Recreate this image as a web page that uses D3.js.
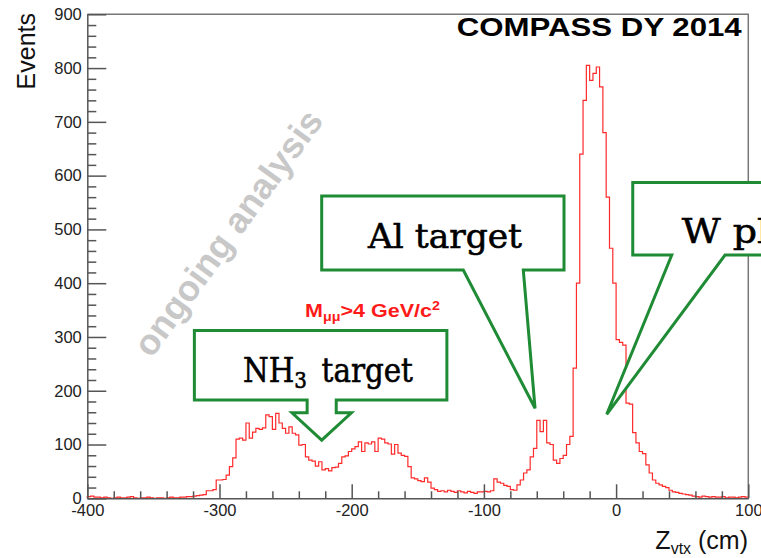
<!DOCTYPE html>
<html lang="en">
<head>
<meta charset="UTF-8">
<title>COMPASS DY 2014 - Z vertex</title>
<script src="https://d3js.org/d3.v7.min.js"></script>
<style>
  body { margin: 0; background: #fff; }
  svg { display: block; font-family: "Liberation Sans", Arial, sans-serif; }
</style>
</head>
<body>
<svg id="chart" width="761" height="558"></svg>
<script>
// histogram: Z_vtx from -400 to 100 cm, 2.5 cm bins
const binLow = -400;
const binWidth = 2.5;
const counts = [
  3,4,2,2,1,2,1,0,1,2,1,1,2,3,1,0,1,1,2,1,0,1,1,0,1,2,1,1,2,2,3,3,
  4,5,6,7,14,14,16,34,34,35,43,59,75,110,112,108,140,112,123,130,128,131,155,152,128,158,140,130,121,133,121,118,
  99,100,77,71,69,60,68,53,55,51,57,58,65,77,79,87,92,96,105,87,103,101,105,87,112,110,103,101,82,100,84,80,
  78,59,38,36,33,31,38,30,19,16,13,14,12,15,13,11,14,12,10,13,11,9,12,12,13,12,14,36,30,28,24,22,
  16,15,25,34,47,53,77,93,145,124,145,103,100,71,65,74,80,100,115,242,400,640,740,805,777,790,802,765,680,560,465,400,
  295,290,285,177,175,122,103,87,83,62,47,34,28,25,22,20,15,12,11,9,8,7,6,4,
  3,2,4,3,2,3,2,2,3,1,2,2,1,2,3,2
];

const xMajor = [-400, -300, -200, -100, 0, 100];
const yMajor = [0, 100, 200, 300, 400, 500, 600, 700, 800, 900];
const xMinor = d3.range(-400, 101, 20).filter(v => !xMajor.includes(v));
const yMinor = d3.range(0, 901, 20).filter(v => !yMajor.includes(v));

// callout outlines in (cm, events)
const nh3Callout = [[-319,312],[-128,312],[-128,183],[-211.7,183],[-211.7,159],[-200.2,159],[-222.7,108],[-245.2,159],[-233.7,159],[-233.7,183],[-319,183]];
const alCallout = [[-222.7,562],[-39.4,562],[-39.4,424.5],[-70.2,424.5],[-61.3,167.4],[-115.6,424.5],[-222.7,424.5]];
const wCallout = [[12.6,587],[140,587],[140,452.4],[82.4,452.4],[-7.1,156.2],[42.1,452.4],[12.6,452.4]];

const W = 761, H = 558;
const svg = d3.select("#chart");
svg.append("rect").attr("width", W).attr("height", H).attr("fill", "#fff");

const x = d3.scaleLinear().domain([-400, 100]).range([87.3, 748.3]);
const y = d3.scaleLinear().domain([0, 900]).range([498.3, 14.3]);

const axisCol = "#555";
const green = "#1f8b35";

// watermark
svg.append("text")
  .attr("transform", "translate(238,240) rotate(-54)")
  .attr("text-anchor", "middle")
  .attr("font-weight", "bold")
  .attr("font-size", 36)
  .attr("fill", "#c8c8c8")
  .text("ongoing analysis");

// frame top/right
svg.append("path")
  .attr("d", `M${x(-400)},${y(900)}H${x(100)}V${y(0)}`)
  .attr("fill", "none").attr("stroke", "#777").attr("stroke-width", 1.5);

// histogram
const pts = [[binLow, 0]].concat(counts.map((c, i) => [binLow + i * binWidth, c]));
pts.push([binLow + counts.length * binWidth, counts[counts.length - 1]]);
const line = d3.line().x(d => x(d[0])).y(d => y(d[1])).curve(d3.curveStepAfter);
svg.append("path")
  .attr("d", line(pts))
  .attr("fill", "none")
  .attr("stroke", "#ff2a2a")
  .attr("stroke-width", 1.2);

// axes
function styleAxis(g) {
  g.selectAll("line").attr("stroke", axisCol).attr("stroke-width", 1.5);
  g.select(".domain").attr("stroke", axisCol).attr("stroke-width", 1.5);
  g.selectAll("text").attr("font-size", 16.5).attr("fill", "#222")
    .attr("font-family", "'Liberation Sans', Arial, sans-serif");
}
const gxMinor = svg.append("g").attr("transform", `translate(0,${y(0)})`)
  .call(d3.axisBottom(x).tickValues(xMinor).tickSize(-7).tickSizeOuter(0).tickFormat(""));
gxMinor.select(".domain").remove();
styleAxis(gxMinor);
const gx = svg.append("g").attr("transform", `translate(0,${y(0)})`)
  .call(d3.axisBottom(x).tickValues(xMajor).tickSize(-14).tickSizeOuter(0).tickPadding(6).tickFormat(d => String(d)));
styleAxis(gx);

const gyMinor = svg.append("g").attr("transform", `translate(${x(-400)},0)`)
  .call(d3.axisLeft(y).tickValues(yMinor).tickSize(-9).tickSizeOuter(0).tickFormat(""));
gyMinor.select(".domain").remove();
styleAxis(gyMinor);
const gy = svg.append("g").attr("transform", `translate(${x(-400)},0)`)
  .call(d3.axisLeft(y).tickValues(yMajor).tickSize(-19).tickSizeOuter(0).tickPadding(5.5).tickFormat(d => String(d)));
styleAxis(gy);

// axis titles
svg.append("text")
  .attr("transform", "translate(35,13) rotate(-90)")
  .attr("text-anchor", "end")
  .attr("font-size", 25)
  .attr("fill", "#111")
  .text("Events");

const zt = svg.append("text")
  .attr("x", 748).attr("y", 549)
  .attr("text-anchor", "end")
  .attr("font-size", 25)
  .attr("fill", "#111");
zt.append("tspan").text("Z");
zt.append("tspan").attr("font-size", 16).attr("dy", 5).text("vtx");
zt.append("tspan").attr("dy", -5).text(" (cm)");

// helper: place text and stretch it to a target width
function fitText(px, py, w, anchor, build) {
  const g = svg.append("g").attr("transform", `translate(${px},${py})`);
  const t = g.append("text").attr("text-anchor", anchor);
  build(t);
  const L = t.node().getComputedTextLength();
  const sx = w / L;
  t.attr("transform", `scale(${sx},1)`);
  return sx;
}

// COMPASS label
fitText(741.7, 36, 285, "end", t => {
  t.attr("font-size", 25).attr("font-weight", "bold").attr("fill", "#000").text("COMPASS DY 2014");
});

// mass cut label
fitText(305, 316.7, 135, "start", t => {
  t.attr("font-size", 18).attr("font-weight", "bold").attr("fill", "#ff1a1a");
  t.append("tspan").text("M");
  t.append("tspan").attr("font-size", 12).attr("dy", 4).text("\u03bc\u03bc");
  t.append("tspan").attr("dy", -4).text(">4 GeV/c");
  t.append("tspan").attr("font-size", 12).attr("dy", -7).text("2");
});

// callouts
const outline = d3.line().x(d => x(d[0])).y(d => y(d[1]));
[nh3Callout, alCallout, wCallout].forEach(c => {
  svg.append("path")
    .attr("d", outline(c) + "Z")
    .attr("fill", "#fff")
    .attr("stroke", green)
    .attr("stroke-width", 3)
    .attr("stroke-linejoin", "miter");
});

const serif = "'DejaVu Serif', 'Liberation Serif', serif";
function serifText(t) {
  t.attr("font-size", 34).attr("font-family", serif).attr("fill", "#000")
    .attr("stroke", "#000").attr("stroke-width", 0.6);
}
fitText(243, 382, 170, "start", t => {
  serifText(t);
  t.append("tspan").text("NH");
  t.append("tspan").attr("font-size", 23).attr("dy", 6).text("3");
  t.append("tspan").attr("dy", -6).text("\u2002target");
});
const alSx = fitText(368, 248, 154, "start", t => {
  serifText(t);
  t.text("Al target");
});
svg.append("text")
  .attr("transform", `translate(681.7,243.3) scale(${alSx * 1.1},1)`)
  .call(serifText)
  .text("W plug");
</script>
</body>
</html>
